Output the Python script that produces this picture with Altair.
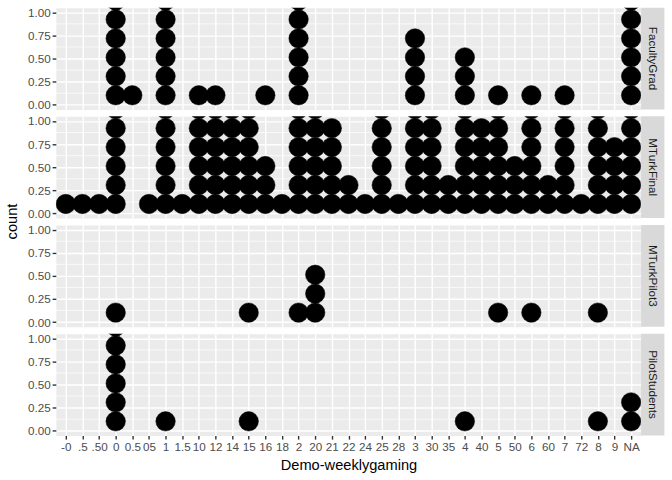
import json
import altair as alt
import pandas as pd

categories = ["-0", ".5", ".50", "0", "0.5", "05", "1", "1.5", "10", "12", "14", "15",
              "16", "18", "2", "20", "21", "22", "24", "25", "28", "3", "30", "35", "4",
              "40", "5", "50", "6", "60", "7", "72", "8", "9", "NA"]
panels = ["FacultyGrad", "MTurkFinal", "MTurkPilot3", "PilotStudents"]

# number of stacked dots per category (same order as categories)
faculty_grad = [0, 0, 0, 6, 1, 0, 6, 0, 1, 1, 0, 0, 1, 0, 6, 0, 0, 0, 0, 0, 0, 4, 0, 0, 3,
                0, 1, 0, 1, 0, 1, 0, 0, 0, 6]
mturk_final = [1, 1, 1, 6, 0, 1, 6, 1, 6, 6, 6, 6, 3, 1, 6, 6, 5, 2, 1, 6, 1, 6, 6, 2, 6,
               5, 6, 3, 6, 2, 6, 1, 6, 4, 6]
mturk_pilot3 = [0, 0, 0, 1, 0, 0, 0, 0, 0, 0, 0, 1, 0, 0, 1, 3, 0, 0, 0, 0, 0, 0, 0, 0, 0,
                0, 1, 0, 1, 0, 0, 0, 1, 0, 0]
pilot_students = [0, 0, 0, 6, 0, 0, 1, 0, 0, 0, 0, 1, 0, 0, 0, 0, 0, 0, 0, 0, 0, 0, 0, 0, 1,
                  0, 0, 0, 0, 0, 0, 0, 1, 0, 2]
counts_by_panel = [faculty_grad, mturk_final, mturk_pilot3, pilot_students]

y_ticks = [0, 0.25, 0.5, 0.75, 1.0]
y_minor = [0.125, 0.375, 0.625, 0.875]

W = 587
H = 102
STRIP = 23.4
STEP = 0.205
FONT = "Liberation Sans"

label_expr = json.dumps(categories) + "[datum.value]"
xscale = alt.Scale(domain=[-0.6, 34.6], nice=False, zero=False)
yscale = alt.Scale(domain=[-0.05, 1.05], nice=False, zero=False)


def panel_chart(name, counts, bottom, with_count):
    obs = pd.DataFrame({"idx": [i for i, c in enumerate(counts) for _ in range(c)]})
    if bottom:
        xaxis = alt.Axis(values=list(range(len(categories))), labelExpr=label_expr,
                         title="Demo-weeklygaming", labelAngle=0, titlePadding=5)
    else:
        xaxis = alt.Axis(values=list(range(len(categories))), labels=False, ticks=False,
                         title=None, domain=False)
    yaxis = alt.Axis(values=y_ticks, format=".2f", title=None)

    minor = alt.Chart(pd.DataFrame({"v": y_minor})).mark_rule(
        color="white", strokeWidth=0.7
    ).encode(y=alt.Y("v:Q", scale=yscale, axis=yaxis))

    dots = alt.Chart(obs).transform_window(
        k="row_number()", groupby=["idx"]
    ).transform_calculate(
        yc=f"(datum.k - 0.5) * {STEP}"
    ).mark_point(
        shape="circle", filled=True, size=380, color="black", opacity=1,
        stroke="black", strokeWidth=0.5, clip=True
    ).encode(
        x=alt.X("idx:Q", scale=xscale, axis=xaxis),
        y=alt.Y("yc:Q", scale=yscale, axis=yaxis),
    )

    one = pd.DataFrame({"s": [name]})
    strip = alt.Chart(one).mark_rect(color="#D9D9D9").encode(
        x=alt.value(W), x2=alt.value(W + STRIP), y=alt.value(0), y2=alt.value(H)
    )
    strip_text = alt.Chart(one).mark_text(
        angle=90, align="center", baseline="middle", font=FONT, fontSize=11.7,
        color="#1A1A1A"
    ).encode(x=alt.value(W + STRIP / 2), y=alt.value(H / 2), text="s:N")

    layers = [minor, dots, strip, strip_text]
    if with_count:
        count_text = alt.Chart(pd.DataFrame({"t": ["count"]})).mark_text(
            angle=270, align="center", baseline="middle", font=FONT, fontSize=14.67,
            color="black"
        ).encode(x=alt.value(-43), y=alt.value(H + 3.5), text="t:N")
        layers.append(count_text)
    return alt.layer(*layers).properties(width=W, height=H)


charts = [panel_chart(n, c, i == 3, i == 1) for i, (n, c) in enumerate(zip(panels, counts_by_panel))]

chart = alt.vconcat(*charts, spacing=7, bounds="flush").properties(
    padding={"left": 4, "top": 6, "right": 7, "bottom": 4},
    background="white",
).configure_view(
    fill="#EBEBEB", stroke="transparent"
).configure_axis(
    grid=True, gridColor="white", gridWidth=1.4, domain=False,
    tickColor="#333333", tickSize=3.7, tickWidth=1.4,
    labelFont=FONT, labelFontSize=11.7, labelColor="#4D4D4D", labelPadding=2,
    titleFont=FONT, titleFontSize=14.67, titleColor="black", titleFontWeight="normal",
)

chart.save("out.html", embed_options={"renderer": "svg", "actions": False})
